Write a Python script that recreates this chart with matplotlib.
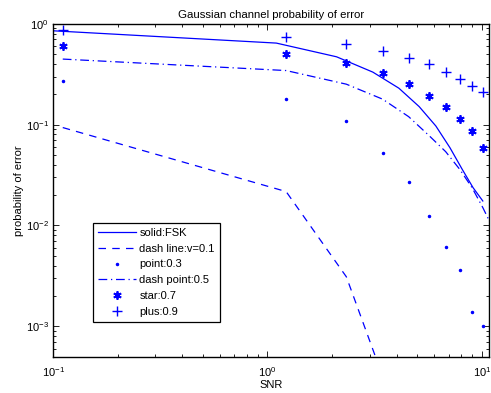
"""Gaussian channel probability of error, log-log comparison."""

import matplotlib
matplotlib.use("Agg")
import matplotlib.pyplot as plt

# FSK reference curve
snr_fsk = [0.1, 1.1, 2.1, 3.1, 4.1, 5.1, 6.1, 7.1, 8.1, 9.1, 10.1]
pe_fsk = [0.853, 0.644, 0.471, 0.332, 0.23, 0.151, 0.097, 0.059, 0.036, 0.0237, 0.0175]

# simulated curves (last snr point lies beyond the right limit)
snr = [0.111, 1.222, 2.333, 3.444, 4.556, 5.667, 6.778, 7.889, 9.0, 10.111, 11.222]
pe_v01 = [0.0936, 0.0217, 0.0031, 0.00032]
pe_v03 = [0.268, 0.179, 0.109, 0.052, 0.0273, 0.0125, 0.0061, 0.0036, 0.0014, 0.001]
pe_v05 = [0.447, 0.344, 0.252, 0.179, 0.12, 0.078, 0.054, 0.036, 0.0237, 0.015, 0.0095]
pe_v07 = [0.605, 0.50, 0.408, 0.324, 0.254, 0.191, 0.149, 0.114, 0.0875, 0.059]
pe_v09 = [0.86, 0.738, 0.633, 0.532, 0.456, 0.395, 0.334, 0.285, 0.243, 0.21]

labels = ["solid:FSK", "dash line:v=0.1", "point:0.3", "dash point:0.5",
          "star:0.7", "plus:0.9"]


def main() -> None:
    plt.rcParams["font.family"] = ["Liberation Sans", "DejaVu Sans"]
    plt.rcParams["mathtext.fontset"] = "custom"
    plt.rcParams["mathtext.rm"] = "Liberation Sans"
    plt.rcParams["mathtext.it"] = "Liberation Sans"

    fig = plt.figure(figsize=(4.91, 3.93), dpi=100)
    ax = fig.add_axes([0.108, 0.0924, 0.888, 0.847])
    blue = (0, 0, 1)
    asterisk = (6, 2, 0)

    ax.plot(snr_fsk, pe_fsk, "-", color=blue, lw=0.9, label=labels[0])
    ax.plot(snr[:len(pe_v01)], pe_v01, color=blue, lw=0.9,
            linestyle=(0, (6, 5)), label=labels[1])
    ax.plot(snr[:len(pe_v03)], pe_v03, ".", color=blue, ms=3, label=labels[2])
    ax.plot(snr[:len(pe_v05)], pe_v05, color=blue, lw=0.9,
            linestyle=(0, (7, 3, 1, 3)), label=labels[3])
    ax.plot(snr[:len(pe_v07)], pe_v07, linestyle="none", marker=asterisk,
            color=blue, ms=6, mew=1.3, label=labels[4])
    ax.plot(snr[:len(pe_v09)], pe_v09, "+", color=blue, ms=7, mew=1.0,
            label=labels[5])

    ax.set_xscale("log")
    ax.set_yscale("log")
    ax.set_xlim(0.1, 10.8)
    ax.set_ylim(5e-4, 1)

    ax.set_title("Gaussian channel probability of error", fontsize=8.2, pad=4)
    ax.set_xlabel("SNR", fontsize=8, labelpad=1)
    ax.set_ylabel("probability of error", fontsize=8, labelpad=1)

    ax.tick_params(which="both", direction="in", top=True, right=True,
                   labelsize=8, width=0.6)
    ax.tick_params(which="major", length=4)
    ax.tick_params(which="minor", length=2)
    ax.tick_params(axis="x", which="major", pad=6)
    ax.tick_params(axis="y", which="major", pad=3)
    for spine in ax.spines.values():
        spine.set_linewidth(1.0)

    leg = ax.legend(loc="lower left", bbox_to_anchor=(0.092, 0.105),
                    fontsize=8, handlelength=3.4, handletextpad=0.3,
                    borderpad=0.45, labelspacing=0.52, fancybox=False,
                    framealpha=1, borderaxespad=0)
    leg.get_frame().set_edgecolor("black")
    leg.get_frame().set_linewidth(0.9)

    fig.savefig("out.png", dpi=100)


if __name__ == "__main__":
    main()
